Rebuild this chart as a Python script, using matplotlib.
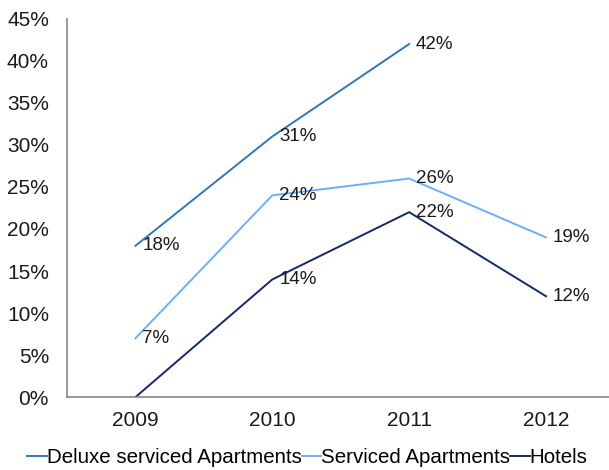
import numpy as np
import matplotlib.pyplot as plt

plt.rcParams['font.family'] = ['Liberation Sans', 'DejaVu Sans']

years = ['2009', '2010', '2011', '2012']
deluxe = [18, 31, 42, np.nan]
serviced = [7, 24, 26, 19]
hotels = [0, 14, 22, 12]
show_label_hotels = [False, True, True, True]

fig = plt.figure(figsize=(6.09, 4.70), dpi=100)
ax = fig.add_axes([0.110, 0.155, 0.89, 0.805])

x = np.arange(len(years))
series = [
    ('Deluxe serviced Apartments', deluxe, '#2f77bd', [True] * 4),
    ('Serviced Apartments', serviced, '#6caeff', [True] * 4),
    ('Hotels', hotels, '#14286e', show_label_hotels),
]
for name, vals, col, show in series:
    ax.plot(x, vals, color=col, lw=1.4, label=name)
    for xi, v, s in zip(x, vals, show):
        if s and not np.isnan(v):
            ax.annotate(f'{v:.0f}%', (xi, v), xytext=(5, 0), textcoords='offset points',
                        va='center', ha='left', fontsize=13.5, color='#1a1a1a')

ax.set_xlim(-0.5, 3.46)
ax.set_ylim(0, 45)
ax.set_xticks(x)
ax.set_xticklabels(years)
ax.set_yticks(np.arange(0, 46, 5))
ax.set_yticklabels([f'{v}%' for v in range(0, 46, 5)])
ax.tick_params(length=0, labelsize=15, colors='#1a1a1a')
ax.tick_params(axis='x', pad=10)
ax.tick_params(axis='y', pad=13)
for s in ['top', 'right']:
    ax.spines[s].set_visible(False)
for s in ['left', 'bottom']:
    ax.spines[s].set_color('#868686')
    ax.spines[s].set_linewidth(1.2)

fig.legend(loc='lower center', bbox_to_anchor=(0.505, -0.033), ncol=3, frameon=False,
           fontsize=14.8, handlelength=0.95, handletextpad=0.0, columnspacing=0.0)

fig.savefig('out.png', dpi=100)
